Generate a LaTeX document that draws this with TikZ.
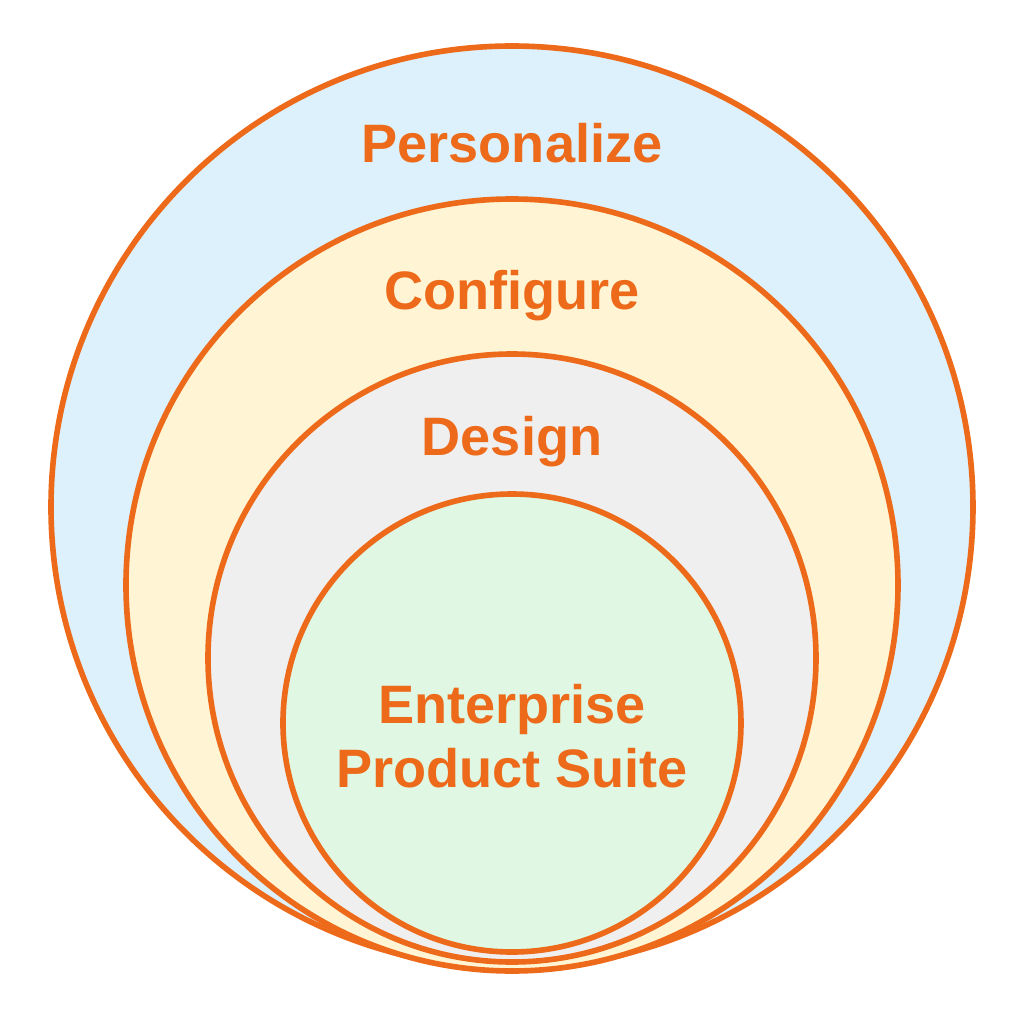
\documentclass[tikz,border=0pt]{standalone}
\usepackage{fontspec}
\setmainfont{Liberation Sans}
\definecolor{ringorange}{HTML}{EC6A1A}
\definecolor{skyfill}{HTML}{DDF1FC}
\definecolor{creamfill}{HTML}{FFF5D5}
\definecolor{greyfill}{HTML}{EFEFEF}
\definecolor{mintfill}{HTML}{DFF7E3}
\begin{document}
\begin{tikzpicture}[
  ring/.style={circle, draw=ringorange, line width=1.6pt, inner sep=0pt},
  ringlabel/.style={text=ringorange, anchor=base, align=center,
    font=\bfseries\fontsize{15.4}{18.2}\selectfont}]
  \useasboundingbox (-5.12,-5.12) rectangle (5.12,5.12);
  \fill[white] (-5.12,-5.12) rectangle (5.12,5.12);
  \node[ring, fill=skyfill, minimum size=9.22cm] (personalize) at (0,0.05) {};
  \node[ring, fill=creamfill, minimum size=7.72cm] (configure) at (0,-0.73) {};
  \node[ring, fill=greyfill, minimum size=6.08cm] (design) at (0,-1.46) {};
  \node[ring, fill=mintfill, minimum size=4.58cm] (suite) at (0,-2.11) {};
  \node[ringlabel] (personalizetext) at (0,3.50) {Personalize};
  \node[ringlabel] (configuretext) at (0,2.03) {Configure};
  \node[ringlabel] (designtext) at (0,0.57) {Design};
  \node[ringlabel] (suitetext) at (0,-2.75) {Enterprise\\Product Suite};
\end{tikzpicture}
\end{document}
